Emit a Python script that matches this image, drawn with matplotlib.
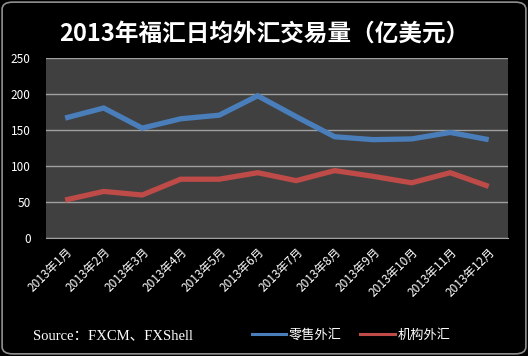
import matplotlib
matplotlib.use("Agg")
import matplotlib.pyplot as plt
from matplotlib.patches import FancyBboxPatch
from matplotlib.lines import Line2D

plt.rcParams['font.family'] = ['Noto Sans CJK SC', 'DejaVu Sans']

months = ['2013年%d月' % m for m in range(1, 13)]
retail = [167, 181, 153, 166, 171, 198, 169, 141, 137, 138, 147, 137]
institutional = [53, 65, 60, 82, 82, 91, 80, 94, 86, 77, 91, 72]

fig = plt.figure(figsize=(5.28, 3.56), dpi=100, facecolor='black')
ax = fig.add_axes([0.087, 0.331, 0.875, 0.505])
ax.set_facecolor('#404040')

x = range(len(months))
ax.plot(x, retail, color='#4a7ebb', lw=3.8, solid_capstyle='butt', solid_joinstyle='miter')
ax.plot(x, institutional, color='#be4b48', lw=3.8, solid_capstyle='butt', solid_joinstyle='miter')

ax.set_xlim(-0.5, 11.5)
ax.set_ylim(0, 250)
ax.set_yticks(range(0, 251, 50))
ax.yaxis.grid(True, color='#a0a0a0', lw=1)
ax.set_axisbelow(True)
ax.set_xticks(list(x))
ax.set_xticklabels(months, rotation=45, ha='right', rotation_mode='anchor',
                   fontsize=8.5, color='white')
ax.tick_params(axis='y', colors='white', labelsize=8.5, length=0, pad=11)
ax.tick_params(axis='x', length=0, pad=5)
for s in ['top', 'right', 'left']:
    ax.spines[s].set_visible(False)
ax.spines['bottom'].set_color('#a0a0a0')

fig.text(0.5, 0.905, '2013年福汇日均外汇交易量（亿美元）', ha='center', va='center',
         color='white', fontsize=17, fontweight='bold')

fig.text(0.063, 0.058, 'Source：FXCM、FXShell', color='white', fontsize=10.5,
         family=['Liberation Serif', 'Noto Sans CJK SC'], va='center')

handles = [Line2D([], [], color='#4a7ebb', lw=2.2),
           Line2D([], [], color='#be4b48', lw=2.2)]
fig.legend(handles, ['零售外汇', '机构外汇'], loc='center', bbox_to_anchor=(0.665, 0.058),
           ncol=2, frameon=False, fontsize=9.5, labelcolor='white', handlelength=2.6,
           handletextpad=0.2, columnspacing=1.4)

fig.patches.append(FancyBboxPatch((0.004, 0.006), 0.992, 0.988,
                                  boxstyle='round,pad=0,rounding_size=0.02',
                                  transform=fig.transFigure, fill=False,
                                  edgecolor='#909090', lw=1.2))

fig.savefig('out.png', dpi=100, facecolor='black')
